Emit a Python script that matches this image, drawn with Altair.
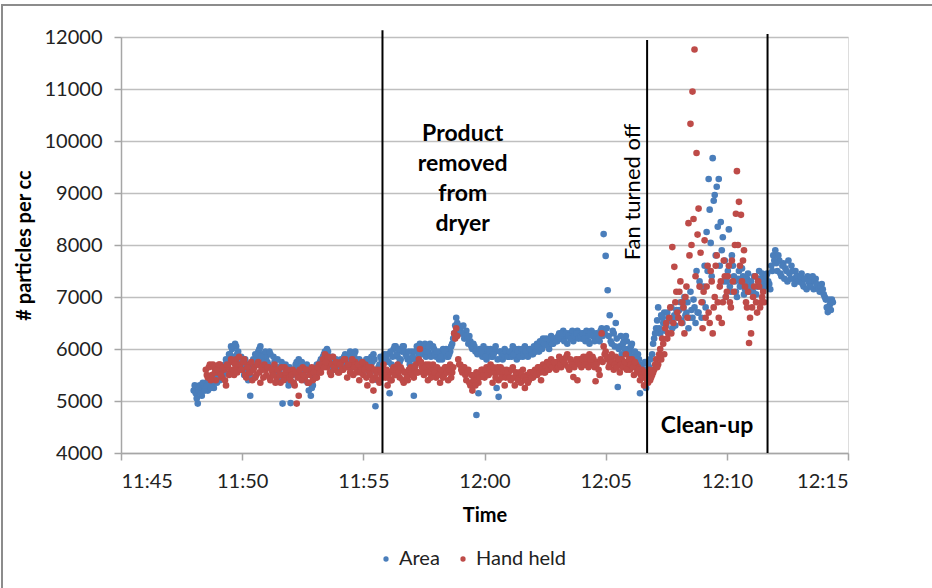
import altair as alt
import pandas as pd

# ---------------- data ----------------
# Area series: readings every 5 s from 11:48:00 (list A) and 2.5 s later (list B)
area_start = "11:48:00"
area_step_s = 5
area_values = [
    # 11:48
    5200, 5150, 4950, 5300, 5100, 5250, 5350, 5200, 5400, 5300, 5250, 5450,
    # 11:49
    5500, 5400, 5600, 5550, 5800, 5700, 5900, 6000, 5850, 6050, 5950, 5800,
    # 11:50
    5700, 5500, 5650, 5400, 5100, 5600, 5750, 5850, 5950, 6050, 5900, 5800,
    # 11:51
    5850, 5700, 5900, 5600, 5750, 5500, 5650, 5400, 4950, 5450, 5600, 5300,
    # 11:52
    4960, 5500, 5600, 5750, 5800, 5550, 5650, 5400, 5700, 5200, 5100, 5300,
    # 11:53
    5500, 5700, 5600, 5800, 5850, 5950, 6000, 5800, 5700, 5600, 5750, 5650,
    # 11:54
    5600, 5800, 5700, 5900, 5750, 5850, 5650, 5800, 5950, 5700, 5800, 5600,
    # 11:55
    5750, 5650, 5800, 5550, 5850, 5900, 4900, 5400, 5700, 5800, 5600, 5850,
    # 11:56
    5900, 5150, 5700, 6000, 6050, 5850, 5750, 5950, 6050, 5900, 5800, 5700,
    # 11:57
    5950, 5100, 5800, 6000, 6100, 5900, 6050, 5850, 5950, 6100, 5900, 6000,
    # 11:58
    5850, 5900, 5950, 5800, 5900, 6000, 5850, 5950, 6100, 6300, 6600, 6450,
    # 11:59
    6400, 6300, 6200, 6350, 6100, 6150, 6000, 6050, 4730, 5150, 5900, 5850,
    # 12:00
    5950, 5800, 5900, 6000, 5850, 5950, 5250, 5080, 5950, 5800, 6000, 5900,
    # 12:01
    5850, 5950, 6050, 5900, 5800, 6000, 5950, 5850, 6050, 6000, 5900, 5950,
    # 12:02
    5900, 6000, 6100, 5950, 6050, 6200, 6100, 6150, 6000, 6250, 6100, 6200,
    # 12:03
    6150, 6300, 6200, 6350, 6250, 6100, 6300, 6200, 6150, 6250, 6350, 6300,
    # 12:04
    6200, 6300, 6150, 6250, 6100, 6350, 6300, 6200, 6250, 6150, 6400, 8210,
    # 12:05
    7790, 7130, 6650, 6100, 6300, 6500, 5270, 6050, 5900, 6150, 6250, 6000,
    # 12:06
    5950, 6100, 5800, 5650, 5900, 5150, 5700, 5600, 5250, 5700, 5800, 5900,
    # 12:07
    6200, 6400, 6800, 6300, 6600, 6700, 6450, 6600, 6550, 6400, 6650, 6750,
    # 12:08
    6600, 6900, 6500, 7000, 6700, 6400, 7100, 6600, 6800, 7500, 6700, 7200,
    # 12:09
    6900, 7600, 8250, 9270, 8040, 9670, 8960, 9120, 9270, 8440, 8150, 7700,
    # 12:10
    7300, 8300, 7100, 7600, 7300, 7000, 7500, 7250, 7400, 7150, 7350, 7200,
    # 12:11
    7300, 7100, 7400, 7200, 7500, 7350, 7150, 7300, 7450, 7250, 7600, 7800,
    # 12:12
    7900, 7500, 7700, 7400, 7650, 7550, 7300, 7450, 7600, 7350, 7500, 7400,
    # 12:13
    7300, 7450, 7200, 7350, 7400, 7250, 7300, 7150, 7350, 7200, 7100, 7250,
    # 12:14
    7050, 6950, 6710, 6850, 6950,
]
area_values_b = [
    # 11:48
    5300, 5050, 5200, 5150, 5350, 5200, 5300, 5450, 5250, 5400, 5500, 5350,
    # 11:49
    5450, 5650, 5500, 5700, 5650, 5900, 6050, 5800, 6100, 5900, 5750, 5850,
    # 11:50
    5600, 5800, 5550, 5700, 5450, 5800, 5900, 5700, 6000, 5850, 5750, 5950,
    # 11:51
    5750, 5950, 5650, 5850, 5550, 5800, 5600, 5750, 5500, 5700, 5400, 5650,
    # 11:52
    5550, 5350, 5700, 5500, 5650, 5750, 5500, 5600, 5350, 5550, 5250, 5450,
    # 11:53
    5650, 5550, 5750, 5700, 5900, 5800, 5950, 5700, 5850, 5650, 5800, 5700,
    # 11:54
    5750, 5650, 5850, 5800, 5700, 5950, 5750, 5900, 5800, 5650, 5750, 5700,
    # 11:55
    5600, 5800, 5700, 5650, 5750, 5800, 5550, 5650, 5850, 5750, 5900, 5800,
    # 11:56
    5750, 5950, 5850, 6050, 5900, 6000, 5800, 6050, 5950, 5850, 5950, 5800,
    # 11:57
    5850, 5950, 6050, 5900, 6000, 5950, 6100, 5950, 6050, 5850, 6050, 5900,
    # 11:58
    5950, 5800, 5850, 6000, 5950, 5850, 5900, 6050, 6200, 6450, 6500, 6350,
    # 11:59
    6300, 6450, 6250, 6200, 6250, 6050, 6100, 5950, 5900, 6000, 5950, 6050,
    # 12:00
    5850, 6000, 5950, 5850, 5900, 6050, 5800, 5950, 5850, 5900, 5950, 5850,
    # 12:01
    5950, 5850, 5900, 6000, 5950, 5850, 6000, 5900, 5950, 5850, 6000, 5900,
    # 12:02
    6050, 5950, 6050, 6150, 6000, 6100, 6200, 6050, 6150, 6100, 6200, 6150,
    # 12:03
    6250, 6200, 6300, 6150, 6300, 6250, 6200, 6350, 6250, 6300, 6200, 6250,
    # 12:04
    6300, 6200, 6350, 6150, 6300, 6250, 6150, 6300, 6200, 6350, 6250, 6300,
    # 12:05
    6400, 6250, 6150, 6350, 6050, 6200, 6000, 6250, 6100, 6000, 6150, 5900,
    # 12:06
    6050, 5850, 5950, 5750, 5800, 5650, 5550, 5750, 5500, 5650, 5600, 6100,
    # 12:07
    6300, 6550, 6400, 6650, 6500, 6350, 6700, 6550, 6800, 6600, 6450, 6600,
    # 12:08
    6750, 6550, 6800, 6650, 6900, 6600, 6750, 6950, 6500, 6700, 7300, 6600,
    # 12:09
    7200, 6800, 7500, 8680, 7400, 8850, 7800, 8350, 7600, 7900, 7300, 7000,
    # 12:10
    7500, 7200, 7800, 7400, 7100, 7350, 7200, 7550, 7050, 7300, 7450, 7100,
    # 12:11
    7200, 7400, 7050, 7350, 7250, 7450, 7200, 7400, 7300, 7150, 7500, 7700,
    # 12:12
    7650, 7800, 7450, 7600, 7350, 7500, 7700, 7350, 7500, 7250, 7400, 7300,
    # 12:13
    7400, 7250, 7350, 7150, 7300, 7200, 7400, 7300, 7250, 7150, 7200, 7150,
    # 12:14
    7000, 6800, 6950, 6750, 6900,
]

# Hand held series: readings every 5 s from 11:48:30 (list A) and 2.5 s later (list B)
hand_start = "11:48:30"
hand_step_s = 5
hand_values = [
    # 11:48:30
    5600, 5450, 5700, 5500, 5650, 5400,
    # 11:49
    5550, 5700, 5450, 5600, 5300, 5650, 5550, 5750, 5500, 5800, 5650, 5700,
    # 11:50
    5600, 5800, 5450, 5700, 5550, 5400, 5650, 5500, 5750, 5350, 5600, 5700,
    # 11:51
    5500, 5650, 5400, 5550, 5700, 5450, 5600, 5350, 5500, 5650, 5450, 5550,
    # 11:52
    5400, 5600, 5300, 4950, 5100, 5500, 5650, 5450, 5600, 5350, 5550, 5400,
    # 11:53
    5600, 5450, 5700, 5550, 5800, 5900, 5650, 5750, 5500, 5850, 5600, 5700,
    # 11:54
    5550, 5750, 5600, 5800, 5450, 5650, 5700, 5500, 5750, 5600, 5400, 5650,
    # 11:55
    5500, 5700, 5300, 5550, 5650, 5200, 5450, 5600, 5350, 5500, 5700, 5450,
    # 11:56
    5300, 5550, 5400, 5650, 5500, 5700, 5450, 5600, 5350, 5550, 5400, 5500,
    # 11:57
    5600, 5450, 5700, 5550, 6000, 5650, 5500, 5700, 5400, 5600, 5500, 5650,
    # 11:58
    5450, 5600, 5350, 5550, 5500, 5650, 5400, 5700, 5550, 6300, 6400, 5800,
    # 11:59
    5700, 5550, 5650, 5400, 5600, 5300, 5200, 5450, 5550, 5350, 5500, 5600,
    # 12:00
    5450, 5650, 5500, 5700, 5350, 5600, 5550, 5400, 5650, 5500, 5300, 5600,
    # 12:01
    5550, 5400, 5650, 5300, 5500, 5450, 5350, 5600, 5250, 5500, 5400, 5550,
    # 12:02
    5450, 5600, 5500, 5650, 5400, 5700, 5550, 5750, 5600, 5800, 5650, 5700,
    # 12:03
    5750, 5850, 5650, 5800, 5700, 5900, 5600, 5750, 5460, 5700, 5400, 5800,
    # 12:04
    5650, 5850, 5700, 5750, 5900, 5700, 5800, 5380, 5750, 5500, 6300, 6050,
    # 12:05
    5950, 5800, 5700, 5900, 5600, 5850, 5750, 5550, 5800, 5650, 5900, 5700,
    # 12:06
    5600, 5800, 5500, 5700, 5650, 5400, 5600, 5300, 5500, 5350, 5400, 5500,
    # 12:07
    5600, 5800, 5700, 6000, 6200, 5900, 6500, 6300, 6800, 7960, 7580, 7100,
    # 12:08
    6600, 7300, 6900, 6300, 7200, 8420, 10330, 10950, 11760, 9770, 8700, 7850,
    # 12:09
    6400, 8090, 7200, 6700, 7500, 6300, 7000, 7800, 6600, 7300, 6900, 7400,
    # 12:10
    7100, 7600, 6800, 7300, 8000, 9420, 8830, 8580, 7700, 7200, 6800, 6115,
    # 12:11
    6300, 7000, 7400, 6700, 7200, 6900, 7100,
]
hand_values_b = [
    # 11:48:30
    5500, 5650, 5400, 5700, 5550, 5600,
    # 11:49
    5700, 5500, 5650, 5400, 5700, 5500, 5800, 5600, 5700, 5550, 5850, 5600,
    # 11:50
    5750, 5500, 5650, 5550, 5750, 5600, 5450, 5700, 5550, 5650, 5450, 5600,
    # 11:51
    5650, 5450, 5600, 5500, 5350, 5600, 5500, 5650, 5400, 5550, 5600, 5450,
    # 11:52
    5500, 5350, 5550, 5450, 5600, 5400, 5500, 5600, 5350, 5500, 5650, 5550,
    # 11:53
    5450, 5650, 5550, 5700, 5650, 5750, 5850, 5550, 5700, 5650, 5750, 5550,
    # 11:54
    5700, 5600, 5800, 5650, 5700, 5550, 5800, 5650, 5550, 5700, 5550, 5750,
    # 11:55
    5600, 5450, 5650, 5500, 5400, 5600, 5550, 5400, 5600, 5450, 5550, 5600,
    # 11:56
    5450, 5400, 5600, 5500, 5600, 5550, 5650, 5400, 5550, 5450, 5600, 5650,
    # 11:57
    5500, 5650, 5550, 5800, 5750, 5550, 5650, 5550, 5700, 5450, 5700, 5550,
    # 11:58
    5650, 5500, 5600, 5450, 5650, 5550, 5600, 5450, 5650, 6200, 6250, 5700,
    # 11:59
    5600, 5650, 5500, 5550, 5350, 5500, 5400, 5300, 5500, 5450, 5600, 5500,
    # 12:00
    5600, 5500, 5600, 5550, 5650, 5450, 5650, 5550, 5450, 5600, 5450, 5550,
    # 12:01
    5450, 5600, 5450, 5550, 5400, 5550, 5500, 5450, 5400, 5350, 5550, 5450,
    # 12:02
    5550, 5500, 5650, 5550, 5600, 5550, 5650, 5600, 5700, 5650, 5750, 5600,
    # 12:03
    5650, 5700, 5800, 5750, 5850, 5650, 5800, 5700, 5650, 5800, 5750, 5700,
    # 12:04
    5800, 5700, 5850, 5650, 5800, 5850, 5650, 5700, 5600, 5800, 5750, 5900,
    # 12:05
    5850, 5650, 5850, 5750, 5700, 5650, 5800, 5700, 5650, 5750, 5600, 5800,
    # 12:06
    5700, 5650, 5750, 5550, 5600, 5500, 5450, 5550, 5400, 5600, 5450, 5550,
    # 12:07
    5700, 5650, 5900, 5800, 6100, 6400, 6200, 6600, 6300, 6500, 6900, 6700,
    # 12:08
    7100, 6500, 6800, 7000, 6600, 7800, 8000, 8500, 7400, 8200, 7200, 6900,
    # 12:09
    7100, 6600, 7600, 6500, 7300, 6800, 7600, 6900, 7200, 6500, 7700, 7000,
    # 12:10
    7400, 6900, 7700, 7100, 8600, 8000, 7600, 7300, 7900, 6900, 7100, 6600,
    # 12:11
    6800, 7200, 6900, 7300, 6800, 7000, 6900,
]

series_names = ["Area", "Hand held"]
series_colors = ["#4A7EBB", "#BE4B48"]

event_minutes = [55.79, 66.71, 71.68]      # minutes after 11:00
event_tops = [12130, 11940, 12060]

x_ticks = [45, 50, 55, 60, 65, 70, 75]
y_ticks = [4000, 5000, 6000, 7000, 8000, 9000, 10000, 11000, 12000]


def to_min(hms):
    h, m, s = (int(p) for p in hms.split(":"))
    return (h - 11) * 60 + m + s / 60.0


rows = []
a0 = to_min(area_start)
for k, vals in enumerate([area_values, area_values_b]):
    for i, v in enumerate(vals):
        rows.append({"t": a0 + (i * area_step_s + k * area_step_s / 2) / 60.0,
                     "v": v, "series": "Area", "o": 0})
h0 = to_min(hand_start)
for k, vals in enumerate([hand_values, hand_values_b]):
    for i, v in enumerate(vals):
        rows.append({"t": h0 + (i * hand_step_s + k * hand_step_s / 2) / 60.0,
                     "v": v, "series": "Hand held", "o": 1})
pts = pd.DataFrame(rows)

rules_df = pd.DataFrame({"t": event_minutes, "y0": [4000] * 3, "top": event_tops})

FONT = "Lato"

label_expr = ("(11 + floor(datum.value / 60)) + ':' + "
              "((datum.value % 60) < 10 ? '0' : '') + (datum.value % 60)")

x_enc = alt.X("t:Q",
              scale=alt.Scale(domain=[45, 75], nice=False, zero=False),
              axis=alt.Axis(values=x_ticks, labelExpr=label_expr, title="Time",
                            grid=False, tickSize=7, tickColor="#a6a6a6",
                            domainColor="#a6a6a6", domainWidth=1.5, tickWidth=1.5,
                            labelFontSize=20, labelPadding=11, labelColor="#222222",
                            titleFontSize=20, titleFontWeight="bold", titlePadding=14,
                            titleColor="#000000"))
y_enc = alt.Y("v:Q",
              scale=alt.Scale(domain=[4000, 12000], nice=False, zero=False),
              axis=alt.Axis(values=y_ticks, format="d", title="# particles per cc",
                            grid=True, gridColor="#bfbfbf", gridWidth=1.5,
                            tickSize=7, tickColor="#a6a6a6", tickWidth=1.5,
                            domainColor="#a6a6a6", domainWidth=1.5,
                            labelFontSize=20, labelPadding=12, labelColor="#222222",
                            titleFontSize=20, titleFontWeight="bold", titlePadding=10,
                            titleColor="#000000"))

points = alt.Chart(pts).mark_circle(size=44, opacity=1).encode(
    x=x_enc,
    y=y_enc,
    color=alt.Color("series:N",
                    scale=alt.Scale(domain=series_names, range=series_colors),
                    legend=alt.Legend(title=None, orient="none", direction="horizontal",
                                      legendX=255, legendY=512, symbolType="circle",
                                      symbolSize=28, labelFontSize=20, labelFont=FONT,
                                      labelColor="#222222", columnPadding=13,
                                      symbolOffset=0, labelOffset=3)),
    order=alt.Order("o:Q"),
)

rules = alt.Chart(rules_df).mark_rule(color="#000000", strokeWidth=2).encode(
    x="t:Q", y="y0:Q", y2="top:Q")

ann_df = pd.DataFrame({"t": [59.1], "v": [10135], "txt": ["Product\nremoved\nfrom\ndryer"]})
ann1 = alt.Chart(ann_df).mark_text(font=FONT, fontSize=23, fontWeight="bold",
                                   lineBreak="\n", lineHeight=30, align="center",
                                   baseline="middle", color="#000000").encode(
    x="t:Q", y="v:Q", text="txt:N")

fan_df = pd.DataFrame({"t": [66.13], "v": [9020], "txt": ["Fan turned off"]})
ann2 = alt.Chart(fan_df).mark_text(font=FONT, fontSize=22, angle=270, align="center",
                                   baseline="middle", color="#000000").encode(
    x="t:Q", y="v:Q", text="txt:N")

clean_df = pd.DataFrame({"t": [69.18], "v": [4520], "txt": ["Clean-up"]})
ann3 = alt.Chart(clean_df).mark_text(font=FONT, fontSize=23, fontWeight="bold",
                                     align="center", baseline="middle",
                                     color="#000000").encode(
    x="t:Q", y="v:Q", text="txt:N")

frame = alt.Chart(pd.DataFrame({"a": [0]})).mark_rect(
    fill=None, stroke="#8c8c8c", strokeWidth=2).encode(
    x=alt.value(-119), x2=alt.value(830), y=alt.value(-32), y2=alt.value(570))

chart = alt.layer(frame, points, rules, ann1, ann2, ann3).properties(
    width=727, height=416,
    autosize=alt.AutoSizeParams(type="none"),
    padding={"left": 121, "top": 37, "right": 84, "bottom": 135},
).configure_view(stroke=None).configure(
    font=FONT, background="#ffffff"
).configure_axis(labelFont=FONT, titleFont=FONT)

chart.save("out.html", embed_options={"renderer": "svg", "actions": False})
